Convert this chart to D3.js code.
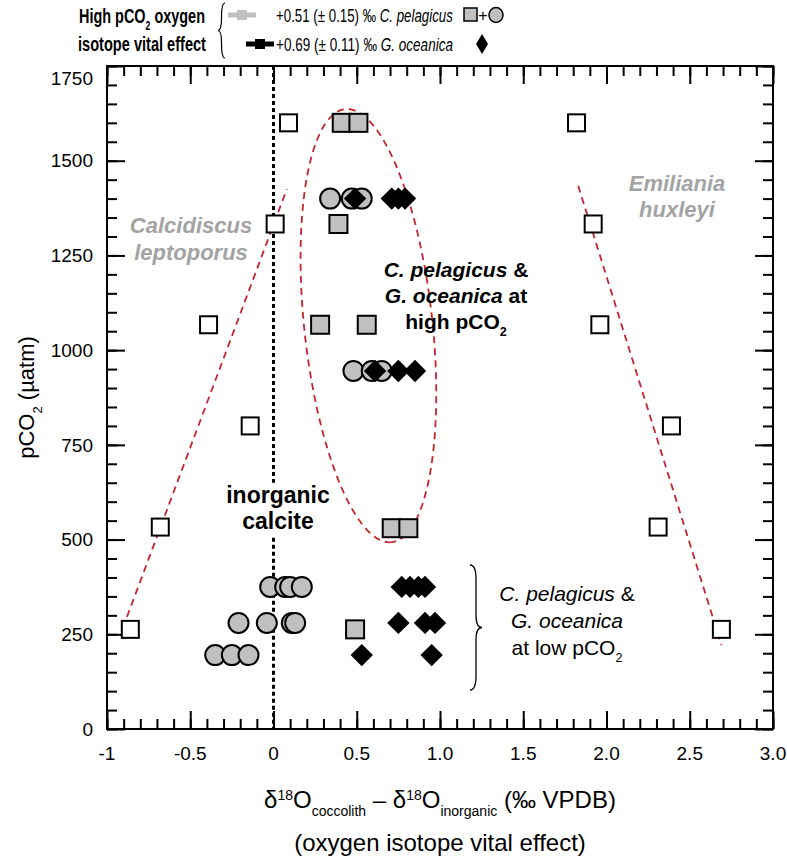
<!DOCTYPE html>
<html>
<head>
<meta charset="utf-8">
<script src="https://cdn.jsdelivr.net/npm/d3@7"></script>
<style>
  body { margin: 0; background: #fff; }
  text { font-family: "Liberation Sans", Arial, sans-serif; }
</style>
</head>
<body>
<div id="chart"></div>
<script>
var svgWidth = 787;
var svgHeight = 862;

var margin = { top: 66, right: 14, bottom: 133, left: 107 };
var width = svgWidth - margin.left - margin.right;
var height = svgHeight - margin.top - margin.bottom;

// tick values and labels
var xTicks = [-1, -0.5, 0, 0.5, 1, 1.5, 2, 2.5, 3];
var xTickLabels = ["-1", "-0.5", "0", "0.5", "1.0", "1.5", "2.0", "2.5", "3.0"];
var yTicks = [0, 250, 500, 750, 1000, 1250, 1500, 1750];

// Calcidiscus leptoporus (open squares, left)
var calciX = [0.09, 0.01, -0.39, -0.14, -0.68, -0.86];
var calciY = [1600, 1333, 1067, 800, 533, 263];
// Emiliania huxleyi (open squares, right)
var ehuxX = [1.82, 1.92, 1.96, 2.39, 2.31, 2.69];
var ehuxY = [1600, 1333, 1067, 800, 533, 263];
// C. pelagicus squares
var pelSqX = [0.41, 0.51, 0.39, 0.28, 0.56, 0.71, 0.81, 0.49];
var pelSqY = [1600, 1600, 1333, 1067, 1067, 530, 530, 263];
// C. pelagicus circles
var pelCiX = [0.34, 0.47, 0.53, 0.48, 0.59, 0.65, -0.02, 0.07, 0.10, 0.17, -0.21, -0.04, 0.11, 0.13, -0.35, -0.25, -0.15];
var pelCiY = [1400, 1400, 1400, 945, 945, 945, 375, 375, 375, 375, 280, 280, 280, 280, 195, 195, 195];
// G. oceanica diamonds
var oceX = [0.49, 0.71, 0.75, 0.79, 0.61, 0.75, 0.85, 0.77, 0.82, 0.87, 0.91, 0.75, 0.91, 0.97, 0.53, 0.95];
var oceY = [1400, 1400, 1400, 1400, 945, 945, 945, 375, 375, 375, 375, 280, 280, 280, 195, 195];

// dashed trend lines (end points)
var calciLineX = [-0.88, 0.08];
var calciLineY = [296, 1425];
var ehuxLineX = [1.83, 2.69];
var ehuxLineY = [1434, 222];
// dashed ellipse: top and bottom ends, half width in x units
var ellTop = [0.43, 1636];
var ellBottom = [0.71, 493];
var ellHalfWidth = 0.385;

var grey = "#c0c0c0";
var red = "#c4262b";

var svg = d3.select("#chart")
  .append("svg")
  .attr("width", svgWidth)
  .attr("height", svgHeight);

var chartGroup = svg.append("g")
  .attr("transform", `translate(${margin.left}, ${margin.top})`);

var xScale = d3.scaleLinear().domain([-1, 3]).range([0, width]);
var yScale = d3.scaleLinear().domain([0, 1750]).range([height, 0]);

// frame
chartGroup.append("rect")
  .attr("width", width).attr("height", height)
  .attr("fill", "none").attr("stroke", "#000").attr("stroke-width", 2);

// ticks, inward on all four sides
var xMinor = d3.range(-1, 3.001, 0.1);
var yMinor = d3.range(0, 1751, 50);

function tickAxis(axis, ticks, size, tx) {
  var g = chartGroup.append("g")
    .attr("transform", tx)
    .call(axis.tickValues(ticks).tickSize(size).tickFormat(""));
  g.select(".domain").remove();
  g.selectAll("line").attr("stroke-width", 2);
  return g;
}
tickAxis(d3.axisBottom(xScale), xMinor, -10, `translate(0,${height})`);
tickAxis(d3.axisBottom(xScale), xTicks, -18, `translate(0,${height})`);
tickAxis(d3.axisTop(xScale), xMinor, -10, "translate(0,0)");
tickAxis(d3.axisTop(xScale), xTicks, -18, "translate(0,0)");
tickAxis(d3.axisLeft(yScale), yMinor, -10, "translate(0,0)");
tickAxis(d3.axisLeft(yScale), yTicks, -18, "translate(0,0)");
tickAxis(d3.axisRight(yScale), yMinor, -10, `translate(${width},0)`);
tickAxis(d3.axisRight(yScale), yTicks, -18, `translate(${width},0)`);

// tick labels
chartGroup.selectAll(".xlab")
  .data(xTicks)
  .enter()
  .append("text")
  .attr("x", d => xScale(d))
  .attr("y", height + 31)
  .attr("text-anchor", "middle")
  .attr("font-size", 19)
  .text((d, i) => xTickLabels[i]);

chartGroup.selectAll(".ylab")
  .data(yTicks)
  .enter()
  .append("text")
  .attr("x", -14)
  .attr("y", d => yScale(d) + (d === 1750 ? 12 : 0))
  .attr("dy", "0.35em")
  .attr("text-anchor", "end")
  .attr("font-size", 19)
  .text(d => d);

// zero line (dotted, broken around the label)
var zeroSegs = [[1750, 650], [505, 0]];
chartGroup.selectAll(".zero")
  .data(zeroSegs)
  .enter()
  .append("line")
  .attr("x1", xScale(0)).attr("x2", xScale(0))
  .attr("y1", d => yScale(d[0])).attr("y2", d => yScale(d[1]))
  .attr("stroke", "#000")
  .attr("stroke-width", 3)
  .attr("stroke-dasharray", "4,3");

// dashed red trend lines
var line = d3.line().x(d => xScale(d[0])).y(d => yScale(d[1]));
[[calciLineX, calciLineY], [ehuxLineX, ehuxLineY]].forEach(function(l) {
  chartGroup.append("path")
    .attr("d", line(d3.zip(l[0], l[1])))
    .attr("fill", "none").attr("stroke", red)
    .attr("stroke-width", 1.8).attr("stroke-dasharray", "7,5");
});

// dashed ellipse
var p1 = [xScale(ellTop[0]), yScale(ellTop[1])];
var p2 = [xScale(ellBottom[0]), yScale(ellBottom[1])];
var cx = (p1[0] + p2[0]) / 2, cy = (p1[1] + p2[1]) / 2;
var a = Math.hypot(p2[0] - p1[0], p2[1] - p1[1]) / 2;
var b = xScale(ellHalfWidth) - xScale(0);
var ang = Math.atan2(p2[1] - p1[1], p2[0] - p1[0]);
var ellPts = d3.range(0, 2 * Math.PI, Math.PI / 90).map(function(t) {
  var u = a * Math.cos(t), v = b * Math.sin(t);
  return [cx + u * Math.cos(ang) - v * Math.sin(ang), cy + u * Math.sin(ang) + v * Math.cos(ang)];
});
chartGroup.append("path")
  .attr("d", d3.line().curve(d3.curveLinearClosed)(ellPts))
  .attr("fill", "none").attr("stroke", red)
  .attr("stroke-width", 1.8).attr("stroke-dasharray", "7,5");

// open squares
var openSq = d3.zip(calciX.concat(ehuxX), calciY.concat(ehuxY));
chartGroup.selectAll(".osq")
  .data(openSq)
  .enter()
  .append("rect")
  .attr("x", d => xScale(d[0]) - 8.5)
  .attr("y", d => yScale(d[1]) - 8.5)
  .attr("width", 17).attr("height", 17)
  .attr("fill", "#fff").attr("stroke", "#000").attr("stroke-width", 2);

// C. pelagicus squares
chartGroup.selectAll(".gsq")
  .data(d3.zip(pelSqX, pelSqY))
  .enter()
  .append("rect")
  .attr("x", d => xScale(d[0]) - 9)
  .attr("y", d => yScale(d[1]) - 9)
  .attr("width", 18).attr("height", 18)
  .attr("fill", grey).attr("stroke", "#000").attr("stroke-width", 2);

// C. pelagicus circles
chartGroup.selectAll(".gci")
  .data(d3.zip(pelCiX, pelCiY))
  .enter()
  .append("circle")
  .attr("cx", d => xScale(d[0]))
  .attr("cy", d => yScale(d[1]))
  .attr("r", 10)
  .attr("fill", grey).attr("stroke", "#000").attr("stroke-width", 2);

// G. oceanica diamonds
var diamond = d3.symbol().type(d3.symbolSquare).size(250);
chartGroup.selectAll(".dia")
  .data(d3.zip(oceX, oceY))
  .enter()
  .append("path")
  .attr("d", diamond)
  .attr("transform", d => `translate(${xScale(d[0])},${yScale(d[1])}) rotate(45)`)
  .attr("fill", "#000");

// annotations
function lines(g, rows, x, y0, dy, opts) {
  rows.forEach(function(r, i) {
    var t = g.append("text")
      .attr("x", x).attr("y", y0 + i * dy)
      .attr("text-anchor", "middle")
      .attr("font-size", opts.size)
      .attr("font-weight", opts.weight || "normal")
      .attr("fill", opts.fill || "#000");
    r.forEach(function(p) {
      var s = t.append("tspan").text(p.t);
      if (p.i) s.attr("font-style", "italic");
      if (p.sub) s.attr("baseline-shift", "sub").attr("font-size", opts.size * 0.6);
    });
  });
}

// condensed text: squeeze horizontally to a target width
function squeezed(rows, x, y, size, weight, w, anchor) {
  var t = svg.append("text")
    .attr("font-size", size)
    .attr("font-weight", weight)
    .attr("text-anchor", anchor);
  rows.forEach(function(p) {
    var s = t.append("tspan").text(p.t);
    if (p.i) s.attr("font-style", "italic");
    if (p.sub) s.attr("baseline-shift", "sub").attr("font-size", size * 0.6);
  });
  var k = w / t.node().getComputedTextLength();
  t.attr("transform", `translate(${x},${y}) scale(${k},1)`);
  return t;
}

lines(svg, [[{t: "Calcidiscus", i: 1}], [{t: "leptoporus", i: 1}]], 191, 233, 27,
  {size: 22, weight: "bold", fill: "#a3a3a3"});
lines(svg, [[{t: "Emiliania", i: 1}], [{t: "huxleyi", i: 1}]], 677, 191, 26,
  {size: 22, weight: "bold", fill: "#a3a3a3"});
lines(svg, [[{t: "C. pelagicus", i: 1}, {t: " &"}],
            [{t: "G. oceanica", i: 1}, {t: " at"}],
            [{t: "high pCO"}, {t: "2", sub: 1}]], 456, 277, 26,
  {size: 21, weight: "bold"});
lines(svg, [[{t: "inorganic"}], [{t: "calcite"}]], 278, 503, 26,
  {size: 23, weight: "bold"});
lines(svg, [[{t: "C. pelagicus", i: 1}, {t: " &"}],
            [{t: "G. oceanica", i: 1}],
            [{t: "at low pCO"}, {t: "2", sub: 1}]], 567, 601, 27,
  {size: 21});

// braces
function brace(x, y1, y2, dir, w) {
  var ym = (y1 + y2) / 2;
  var p = d3.path();
  p.moveTo(x, y1);
  p.quadraticCurveTo(x + dir * w, y1, x + dir * w, y1 + 14);
  p.lineTo(x + dir * w, ym - 12);
  p.quadraticCurveTo(x + dir * w, ym, x + dir * 2 * w, ym);
  p.quadraticCurveTo(x + dir * w, ym, x + dir * w, ym + 12);
  p.lineTo(x + dir * w, y2 - 14);
  p.quadraticCurveTo(x + dir * w, y2, x, y2);
  return p.toString();
}
svg.append("path").attr("d", brace(470, 565, 690, 1, 6))
  .attr("fill", "none").attr("stroke", "#000").attr("stroke-width", 1.3);
svg.append("path").attr("d", brace(225, 3, 58, -1, 3.5))
  .attr("fill", "none").attr("stroke", "#000").attr("stroke-width", 1.2);

// legend
squeezed([{t: "High pCO"}, {t: "2", sub: 1}, {t: " oxygen"}], 142, 23, 21, "bold", 126, "middle");
squeezed([{t: "isotope  vital effect"}], 142, 51, 21, "bold", 128, "middle");

var legRows = [
  {y: 15, col: grey, x0: 228, x1: 256, label: "C. pelagicus", val: "+0.51 (± 0.15) ‰ "},
  {y: 44, col: "#000", x0: 246, x1: 274, label: "G. oceanica", val: "+0.69 (± 0.11) ‰ "}
];
legRows.forEach(function(r) {
  svg.append("line").attr("x1", r.x0).attr("x2", r.x1).attr("y1", r.y).attr("y2", r.y)
    .attr("stroke", r.col).attr("stroke-width", 5);
  svg.append("rect").attr("x", (r.x0 + r.x1) / 2 - 5).attr("y", r.y - 5)
    .attr("width", 10).attr("height", 10).attr("fill", r.col);
  squeezed([{t: r.val}, {t: r.label, i: 1}], 276, r.y + 7, 19, "normal", 177, "start");
});
svg.append("rect").attr("x", 464).attr("y", 8).attr("width", 13).attr("height", 13)
  .attr("fill", grey).attr("stroke", "#000").attr("stroke-width", 1.5);
svg.append("text").attr("x", 483).attr("y", 15).attr("dy", "0.35em")
  .attr("text-anchor", "middle").attr("font-size", 16).text("+");
svg.append("ellipse").attr("cx", 496).attr("cy", 15).attr("rx", 7).attr("ry", 7.5)
  .attr("fill", grey).attr("stroke", "#000").attr("stroke-width", 1.5);
svg.append("path").attr("d", "M482,34 L488,44 L482,54 L476,44 Z").attr("fill", "#000");

// axis titles
var yt = svg.append("text")
  .attr("transform", `translate(34, ${margin.top + height / 2}) rotate(-90)`)
  .attr("text-anchor", "middle")
  .attr("font-size", 22);
yt.append("tspan").text("pCO");
yt.append("tspan").attr("baseline-shift", "sub").attr("font-size", 13).text("2");
yt.append("tspan").text(" (µatm)");

var xt = svg.append("text")
  .attr("x", margin.left + width / 2).attr("y", 808)
  .attr("text-anchor", "middle")
  .attr("font-size", 24);
xt.append("tspan").text("δ");
xt.append("tspan").attr("baseline-shift", "super").attr("font-size", 14).text("18");
xt.append("tspan").text("O");
xt.append("tspan").attr("baseline-shift", "sub").attr("font-size", 14).text("coccolith");
xt.append("tspan").text(" – δ");
xt.append("tspan").attr("baseline-shift", "super").attr("font-size", 14).text("18");
xt.append("tspan").text("O");
xt.append("tspan").attr("baseline-shift", "sub").attr("font-size", 14).text("inorganic");
xt.append("tspan").text(" (‰ VPDB)");

svg.append("text")
  .attr("x", margin.left + width / 2).attr("y", 851)
  .attr("text-anchor", "middle")
  .attr("font-size", 24)
  .text("(oxygen isotope vital effect)");
</script>
</body>
</html>
